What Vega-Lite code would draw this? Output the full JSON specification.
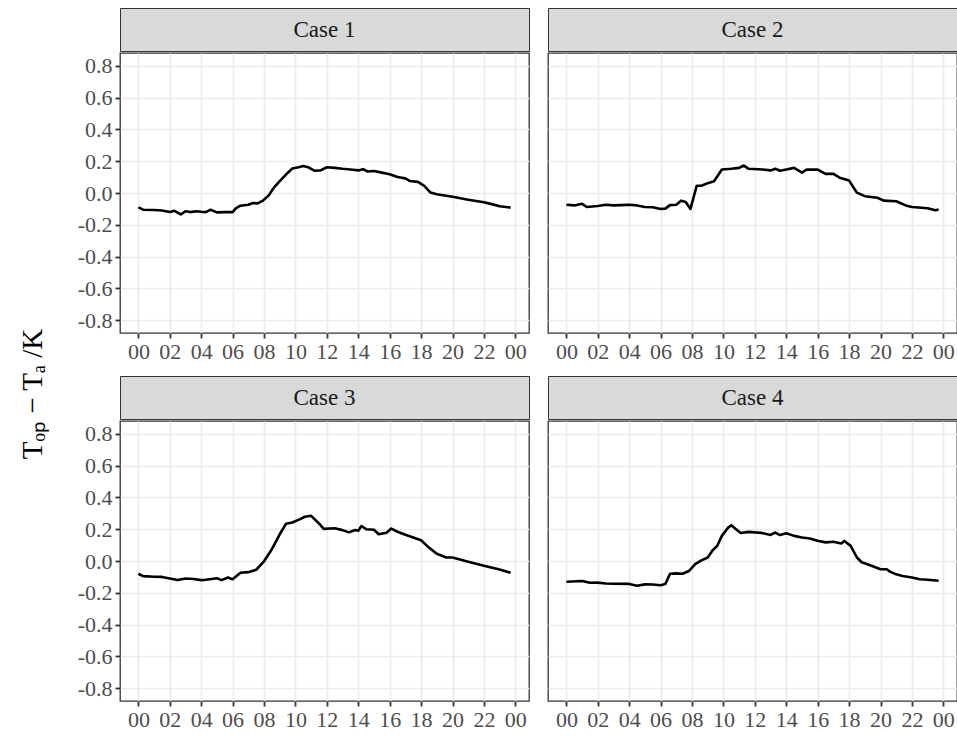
{
  "$schema": "https://vega.github.io/schema/vega-lite/v6.json",
  "padding": {"left": 5, "top": 7, "right": 3, "bottom": 5},
  "background": "white",
  "datasets": {
    "d": [
      {"case":"Case 1","hour":0,"value":-0.09},{"case":"Case 1","hour":0.3,"value":-0.105},{"case":"Case 1","hour":1,"value":-0.107},{"case":"Case 1","hour":1.5,"value":-0.11},{"case":"Case 1","hour":2,"value":-0.12},{"case":"Case 1","hour":2.3,"value":-0.112},{"case":"Case 1","hour":2.7,"value":-0.135},{"case":"Case 1","hour":3,"value":-0.115},{"case":"Case 1","hour":3.3,"value":-0.12},{"case":"Case 1","hour":3.7,"value":-0.115},{"case":"Case 1","hour":4,"value":-0.118},{"case":"Case 1","hour":4.3,"value":-0.12},{"case":"Case 1","hour":4.6,"value":-0.105},{"case":"Case 1","hour":5,"value":-0.122},{"case":"Case 1","hour":5.5,"value":-0.12},{"case":"Case 1","hour":6,"value":-0.12},{"case":"Case 1","hour":6.2,"value":-0.097},{"case":"Case 1","hour":6.5,"value":-0.08},{"case":"Case 1","hour":7,"value":-0.074},{"case":"Case 1","hour":7.3,"value":-0.063},{"case":"Case 1","hour":7.6,"value":-0.065},{"case":"Case 1","hour":7.9,"value":-0.05},{"case":"Case 1","hour":8.3,"value":-0.015},{"case":"Case 1","hour":8.6,"value":0.03},{"case":"Case 1","hour":9,"value":0.075},{"case":"Case 1","hour":9.5,"value":0.126},{"case":"Case 1","hour":9.8,"value":0.154},{"case":"Case 1","hour":10.2,"value":0.162},{"case":"Case 1","hour":10.5,"value":0.17},{"case":"Case 1","hour":10.8,"value":0.162},{"case":"Case 1","hour":11.2,"value":0.14},{"case":"Case 1","hour":11.6,"value":0.142},{"case":"Case 1","hour":12,"value":0.162},{"case":"Case 1","hour":12.5,"value":0.158},{"case":"Case 1","hour":13,"value":0.152},{"case":"Case 1","hour":13.5,"value":0.148},{"case":"Case 1","hour":14,"value":0.142},{"case":"Case 1","hour":14.3,"value":0.15},{"case":"Case 1","hour":14.6,"value":0.135},{"case":"Case 1","hour":15,"value":0.138},{"case":"Case 1","hour":15.5,"value":0.128},{"case":"Case 1","hour":16,"value":0.118},{"case":"Case 1","hour":16.5,"value":0.1},{"case":"Case 1","hour":17,"value":0.092},{"case":"Case 1","hour":17.3,"value":0.075},{"case":"Case 1","hour":17.8,"value":0.07},{"case":"Case 1","hour":18.2,"value":0.045},{"case":"Case 1","hour":18.6,"value":0.003},{"case":"Case 1","hour":19,"value":-0.008},{"case":"Case 1","hour":20,"value":-0.024},{"case":"Case 1","hour":21,"value":-0.042},{"case":"Case 1","hour":22,"value":-0.058},{"case":"Case 1","hour":22.5,"value":-0.07},{"case":"Case 1","hour":23,"value":-0.083},{"case":"Case 1","hour":23.7,"value":-0.092},
      {"case":"Case 2","hour":0,"value":-0.074},{"case":"Case 2","hour":0.5,"value":-0.078},{"case":"Case 2","hour":1,"value":-0.068},{"case":"Case 2","hour":1.3,"value":-0.088},{"case":"Case 2","hour":2,"value":-0.082},{"case":"Case 2","hour":2.5,"value":-0.074},{"case":"Case 2","hour":3,"value":-0.078},{"case":"Case 2","hour":3.5,"value":-0.076},{"case":"Case 2","hour":4,"value":-0.074},{"case":"Case 2","hour":4.5,"value":-0.078},{"case":"Case 2","hour":5,"value":-0.088},{"case":"Case 2","hour":5.5,"value":-0.09},{"case":"Case 2","hour":6,"value":-0.1},{"case":"Case 2","hour":6.3,"value":-0.098},{"case":"Case 2","hour":6.6,"value":-0.076},{"case":"Case 2","hour":7,"value":-0.074},{"case":"Case 2","hour":7.3,"value":-0.048},{"case":"Case 2","hour":7.6,"value":-0.056},{"case":"Case 2","hour":7.9,"value":-0.1},{"case":"Case 2","hour":8.3,"value":0.046},{"case":"Case 2","hour":8.6,"value":0.046},{"case":"Case 2","hour":9,"value":0.062},{"case":"Case 2","hour":9.4,"value":0.074},{"case":"Case 2","hour":9.9,"value":0.148},{"case":"Case 2","hour":10.5,"value":0.152},{"case":"Case 2","hour":11,"value":0.158},{"case":"Case 2","hour":11.3,"value":0.173},{"case":"Case 2","hour":11.6,"value":0.152},{"case":"Case 2","hour":12.5,"value":0.148},{"case":"Case 2","hour":13,"value":0.142},{"case":"Case 2","hour":13.3,"value":0.152},{"case":"Case 2","hour":13.6,"value":0.14},{"case":"Case 2","hour":14,"value":0.148},{"case":"Case 2","hour":14.5,"value":0.158},{"case":"Case 2","hour":15,"value":0.128},{"case":"Case 2","hour":15.3,"value":0.148},{"case":"Case 2","hour":16,"value":0.147},{"case":"Case 2","hour":16.5,"value":0.12},{"case":"Case 2","hour":17,"value":0.12},{"case":"Case 2","hour":17.4,"value":0.096},{"case":"Case 2","hour":18,"value":0.078},{"case":"Case 2","hour":18.5,"value":0.002},{"case":"Case 2","hour":19,"value":-0.02},{"case":"Case 2","hour":19.8,"value":-0.03},{"case":"Case 2","hour":20.2,"value":-0.048},{"case":"Case 2","hour":21,"value":-0.052},{"case":"Case 2","hour":21.6,"value":-0.078},{"case":"Case 2","hour":22,"value":-0.088},{"case":"Case 2","hour":23,"value":-0.096},{"case":"Case 2","hour":23.5,"value":-0.108},{"case":"Case 2","hour":23.7,"value":-0.104},
      {"case":"Case 3","hour":0,"value":-0.08},{"case":"Case 3","hour":0.3,"value":-0.095},{"case":"Case 3","hour":1,"value":-0.099},{"case":"Case 3","hour":1.5,"value":-0.1},{"case":"Case 3","hour":2,"value":-0.11},{"case":"Case 3","hour":2.5,"value":-0.12},{"case":"Case 3","hour":3,"value":-0.11},{"case":"Case 3","hour":3.5,"value":-0.113},{"case":"Case 3","hour":4,"value":-0.12},{"case":"Case 3","hour":4.3,"value":-0.118},{"case":"Case 3","hour":5,"value":-0.108},{"case":"Case 3","hour":5.3,"value":-0.12},{"case":"Case 3","hour":5.7,"value":-0.104},{"case":"Case 3","hour":6,"value":-0.115},{"case":"Case 3","hour":6.5,"value":-0.074},{"case":"Case 3","hour":7,"value":-0.07},{"case":"Case 3","hour":7.5,"value":-0.055},{"case":"Case 3","hour":8,"value":-0.002},{"case":"Case 3","hour":8.5,"value":0.074},{"case":"Case 3","hour":9,"value":0.168},{"case":"Case 3","hour":9.4,"value":0.234},{"case":"Case 3","hour":9.8,"value":0.242},{"case":"Case 3","hour":10.3,"value":0.263},{"case":"Case 3","hour":10.6,"value":0.278},{"case":"Case 3","hour":11,"value":0.284},{"case":"Case 3","hour":11.5,"value":0.236},{"case":"Case 3","hour":11.8,"value":0.202},{"case":"Case 3","hour":12.5,"value":0.206},{"case":"Case 3","hour":13,"value":0.194},{"case":"Case 3","hour":13.4,"value":0.18},{"case":"Case 3","hour":13.8,"value":0.195},{"case":"Case 3","hour":14,"value":0.19},{"case":"Case 3","hour":14.2,"value":0.22},{"case":"Case 3","hour":14.5,"value":0.2},{"case":"Case 3","hour":15,"value":0.196},{"case":"Case 3","hour":15.3,"value":0.168},{"case":"Case 3","hour":15.8,"value":0.178},{"case":"Case 3","hour":16.1,"value":0.204},{"case":"Case 3","hour":16.5,"value":0.184},{"case":"Case 3","hour":17,"value":0.165},{"case":"Case 3","hour":17.5,"value":0.148},{"case":"Case 3","hour":18,"value":0.13},{"case":"Case 3","hour":18.5,"value":0.084},{"case":"Case 3","hour":19,"value":0.046},{"case":"Case 3","hour":19.6,"value":0.022},{"case":"Case 3","hour":20,"value":0.022},{"case":"Case 3","hour":21,"value":-0.004},{"case":"Case 3","hour":22,"value":-0.03},{"case":"Case 3","hour":23,"value":-0.053},{"case":"Case 3","hour":23.7,"value":-0.074},
      {"case":"Case 4","hour":0,"value":-0.13},{"case":"Case 4","hour":1,"value":-0.126},{"case":"Case 4","hour":1.5,"value":-0.137},{"case":"Case 4","hour":2,"value":-0.136},{"case":"Case 4","hour":2.5,"value":-0.141},{"case":"Case 4","hour":3,"value":-0.143},{"case":"Case 4","hour":4,"value":-0.144},{"case":"Case 4","hour":4.5,"value":-0.155},{"case":"Case 4","hour":5,"value":-0.147},{"case":"Case 4","hour":5.5,"value":-0.148},{"case":"Case 4","hour":6,"value":-0.152},{"case":"Case 4","hour":6.3,"value":-0.145},{"case":"Case 4","hour":6.6,"value":-0.08},{"case":"Case 4","hour":7,"value":-0.078},{"case":"Case 4","hour":7.4,"value":-0.08},{"case":"Case 4","hour":7.8,"value":-0.063},{"case":"Case 4","hour":8.2,"value":-0.02},{"case":"Case 4","hour":8.6,"value":0.004},{"case":"Case 4","hour":9,"value":0.022},{"case":"Case 4","hour":9.3,"value":0.066},{"case":"Case 4","hour":9.6,"value":0.095},{"case":"Case 4","hour":9.9,"value":0.158},{"case":"Case 4","hour":10.3,"value":0.21},{"case":"Case 4","hour":10.5,"value":0.225},{"case":"Case 4","hour":10.8,"value":0.2},{"case":"Case 4","hour":11.1,"value":0.176},{"case":"Case 4","hour":11.6,"value":0.183},{"case":"Case 4","hour":12.4,"value":0.177},{"case":"Case 4","hour":13,"value":0.164},{"case":"Case 4","hour":13.3,"value":0.179},{"case":"Case 4","hour":13.6,"value":0.163},{"case":"Case 4","hour":14,"value":0.175},{"case":"Case 4","hour":14.5,"value":0.158},{"case":"Case 4","hour":15,"value":0.148},{"case":"Case 4","hour":15.5,"value":0.141},{"case":"Case 4","hour":16,"value":0.127},{"case":"Case 4","hour":16.5,"value":0.117},{"case":"Case 4","hour":17,"value":0.121},{"case":"Case 4","hour":17.5,"value":0.11},{"case":"Case 4","hour":17.7,"value":0.126},{"case":"Case 4","hour":18.1,"value":0.095},{"case":"Case 4","hour":18.5,"value":0.022},{"case":"Case 4","hour":18.8,"value":-0.008},{"case":"Case 4","hour":19.3,"value":-0.025},{"case":"Case 4","hour":20,"value":-0.052},{"case":"Case 4","hour":20.4,"value":-0.052},{"case":"Case 4","hour":20.6,"value":-0.067},{"case":"Case 4","hour":21,"value":-0.084},{"case":"Case 4","hour":21.4,"value":-0.094},{"case":"Case 4","hour":22,"value":-0.104},{"case":"Case 4","hour":22.5,"value":-0.115},{"case":"Case 4","hour":23,"value":-0.118},{"case":"Case 4","hour":23.7,"value":-0.124}
    ]
  },
  "config": {
    "font": "Liberation Serif",
    "view": {"stroke": "#333333", "strokeWidth": 1.3},
    "axis": {"gridColor": "#ebebeb", "gridWidth": 1.6, "tickColor": "#333333", "tickWidth": 1.8, "tickSize": 5, "labelColor": "#4d4d4d", "labelFontSize": 22, "labelFont": "Liberation Serif", "labelPadding": 3, "domain": false, "title": null}
  },
  "spacing": 15,
  "hconcat": [
    {
      "width": 56, "height": 692,
      "view": {"stroke": null},
      "data": {"values": [{"t": "Tₒₚ − Tₐ /K"}]},
      "mark": {"type": "text", "angle": 270, "fontSize": 29, "color": "#000000", "font": "Liberation Serif", "dx": -40},
      "encoding": {"text": {"field": "t"}}
    },
    {
      "spacing": 12,
      "vconcat": [
        {
          "spacing": 17,
          "hconcat": [
            {"spacing": 0, "vconcat": [
              {"width": 409, "height": 43, "view": {"fill": "#d9d9d9", "stroke": "#333333"}, "data": {"values": [{"label": "Case 1"}]}, "mark": {"type": "text", "fontSize": 23, "color": "#1a1a1a"}, "encoding": {"text": {"field": "label"}}},
              {"width": 409, "height": 280, "data": {"name": "d"}, "transform": [{"filter": "datum.case == 'Case 1'"}],
               "mark": {"type": "line", "color": "black", "strokeWidth": 2.6, "strokeJoin": "round"},
               "encoding": {
                 "x": {"field": "hour", "type": "quantitative", "scale": {"domain": [-1.17, 24.87], "nice": false, "zero": false}, "axis": {"values": [0,2,4,6,8,10,12,14,16,18,20,22,24], "labelExpr": "datum.value == 24 ? '00' : (datum.value < 10 ? '0' + datum.value : '' + datum.value)"}},
                 "y": {"field": "value", "type": "quantitative", "scale": {"domain": [-0.88, 0.88], "nice": false, "zero": false}, "axis": {"values": [-0.8,-0.6,-0.4,-0.2,0,0.2,0.4,0.6,0.8], "labelExpr": "replace(format(datum.value, '.1f'), '−', '-')"}}
               }}
            ]},
            {"spacing": 0, "vconcat": [
              {"width": 409, "height": 43, "view": {"fill": "#d9d9d9", "stroke": "#333333"}, "data": {"values": [{"label": "Case 2"}]}, "mark": {"type": "text", "fontSize": 23, "color": "#1a1a1a"}, "encoding": {"text": {"field": "label"}}},
              {"width": 409, "height": 280, "data": {"name": "d"}, "transform": [{"filter": "datum.case == 'Case 2'"}],
               "mark": {"type": "line", "color": "black", "strokeWidth": 2.6, "strokeJoin": "round"},
               "encoding": {
                 "x": {"field": "hour", "type": "quantitative", "scale": {"domain": [-1.17, 24.87], "nice": false, "zero": false}, "axis": {"values": [0,2,4,6,8,10,12,14,16,18,20,22,24], "labelExpr": "datum.value == 24 ? '00' : (datum.value < 10 ? '0' + datum.value : '' + datum.value)"}},
                 "y": {"field": "value", "type": "quantitative", "scale": {"domain": [-0.88, 0.88], "nice": false, "zero": false}, "axis": {"values": [-0.8,-0.6,-0.4,-0.2,0,0.2,0.4,0.6,0.8], "labels": false, "ticks": false}}
               }}
            ]}
          ]
        },
        {
          "spacing": 17,
          "hconcat": [
            {"spacing": 0, "vconcat": [
              {"width": 409, "height": 43, "view": {"fill": "#d9d9d9", "stroke": "#333333"}, "data": {"values": [{"label": "Case 3"}]}, "mark": {"type": "text", "fontSize": 23, "color": "#1a1a1a"}, "encoding": {"text": {"field": "label"}}},
              {"width": 409, "height": 280, "data": {"name": "d"}, "transform": [{"filter": "datum.case == 'Case 3'"}],
               "mark": {"type": "line", "color": "black", "strokeWidth": 2.6, "strokeJoin": "round"},
               "encoding": {
                 "x": {"field": "hour", "type": "quantitative", "scale": {"domain": [-1.17, 24.87], "nice": false, "zero": false}, "axis": {"values": [0,2,4,6,8,10,12,14,16,18,20,22,24], "labelExpr": "datum.value == 24 ? '00' : (datum.value < 10 ? '0' + datum.value : '' + datum.value)"}},
                 "y": {"field": "value", "type": "quantitative", "scale": {"domain": [-0.88, 0.88], "nice": false, "zero": false}, "axis": {"values": [-0.8,-0.6,-0.4,-0.2,0,0.2,0.4,0.6,0.8], "labelExpr": "replace(format(datum.value, '.1f'), '−', '-')"}}
               }}
            ]},
            {"spacing": 0, "vconcat": [
              {"width": 409, "height": 43, "view": {"fill": "#d9d9d9", "stroke": "#333333"}, "data": {"values": [{"label": "Case 4"}]}, "mark": {"type": "text", "fontSize": 23, "color": "#1a1a1a"}, "encoding": {"text": {"field": "label"}}},
              {"width": 409, "height": 280, "data": {"name": "d"}, "transform": [{"filter": "datum.case == 'Case 4'"}],
               "mark": {"type": "line", "color": "black", "strokeWidth": 2.6, "strokeJoin": "round"},
               "encoding": {
                 "x": {"field": "hour", "type": "quantitative", "scale": {"domain": [-1.17, 24.87], "nice": false, "zero": false}, "axis": {"values": [0,2,4,6,8,10,12,14,16,18,20,22,24], "labelExpr": "datum.value == 24 ? '00' : (datum.value < 10 ? '0' + datum.value : '' + datum.value)"}},
                 "y": {"field": "value", "type": "quantitative", "scale": {"domain": [-0.88, 0.88], "nice": false, "zero": false}, "axis": {"values": [-0.8,-0.6,-0.4,-0.2,0,0.2,0.4,0.6,0.8], "labels": false, "ticks": false}}
               }}
            ]}
          ]
        }
      ]
    }
  ]
}
